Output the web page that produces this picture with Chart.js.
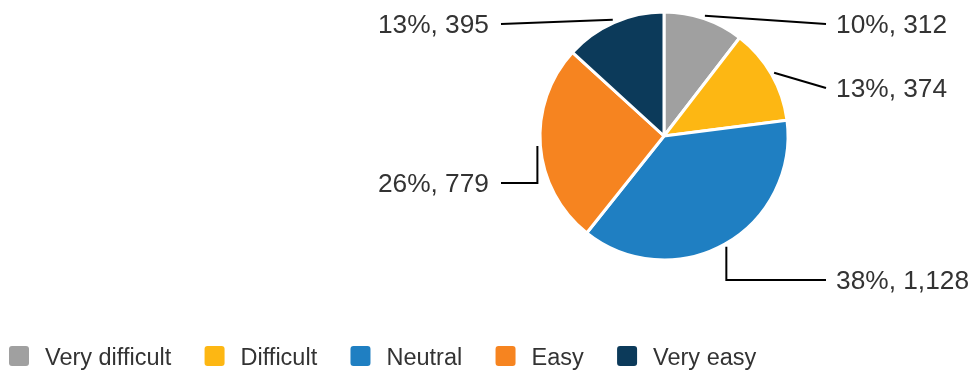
<!DOCTYPE html>
<html>
<head>
<meta charset="utf-8">
<title>Difficulty rating</title>
<script src="https://cdn.jsdelivr.net/npm/chart.js@4.4.1/dist/chart.umd.min.js"></script>
<style>
  html, body { margin: 0; padding: 0; background: #ffffff; }
  #wrap { width: 972px; height: 372px; position: relative; }
</style>
</head>
<body>
<div id="wrap"><canvas id="pie" width="972" height="372"></canvas></div>
<script>
// Survey answers: how difficult was it?
const categories = ['Very difficult', 'Difficult', 'Neutral', 'Easy', 'Very easy'];
const counts = [312, 374, 1128, 779, 395];
const colors = ['#a0a0a0', '#fdb713', '#1f7fc2', '#f68420', '#0c3a5a'];

// Callout placement per slice: which side the label sits on, its row
// relative to the pie centre, and whether the leader bends (elbow).
const calloutSide = ['right', 'right', 'right', 'left', 'left'];
const calloutRow = [-112, -48, 144, 47, -112];
const calloutElbow = [false, false, true, true, false];

const FONT = "'Liberation Sans', Arial, Helvetica, sans-serif";
const TEXT = '#333333';

const total = counts.reduce((a, b) => a + b, 0);
const fmt = new Intl.NumberFormat('en-US');

// Leader lines and "pct%, count" labels for each slice
const calloutPlugin = {
  id: 'callouts',
  afterDatasetsDraw(chart) {
    const ctx = chart.ctx;
    const meta = chart.getDatasetMeta(0);
    ctx.save();
    ctx.font = '26.3px ' + FONT;
    ctx.strokeStyle = '#000000';
    ctx.lineWidth = 2;
    ctx.fillStyle = TEXT;
    ctx.textBaseline = 'alphabetic';
    meta.data.forEach((arc, i) => {
      const p = arc.getProps(['x', 'y', 'startAngle', 'endAngle', 'outerRadius'], true);
      const mid = (p.startAngle + p.endAngle) / 2;
      const r0 = p.outerRadius + 3;
      const sx = p.x + Math.cos(mid) * r0;
      const sy = p.y + Math.sin(mid) * r0;
      const right = calloutSide[i] === 'right';
      const ex = right ? p.x + p.outerRadius + 38 : p.x - p.outerRadius - 39;
      const ey = p.y + calloutRow[i];
      ctx.beginPath();
      ctx.moveTo(sx, sy);
      if (calloutElbow[i]) ctx.lineTo(sx, ey);
      ctx.lineTo(ex, ey);
      ctx.stroke();
      const pct = Math.round(counts[i] / total * 100);
      const label = pct + '%, ' + fmt.format(counts[i]);
      ctx.textAlign = right ? 'left' : 'right';
      ctx.fillText(label, right ? ex + 10 : ex - 12, ey + 9.4);
    });
    ctx.restore();
  }
};

// Single-row legend along the bottom edge
const legendPlugin = {
  id: 'bottomLegend',
  afterDraw(chart) {
    const ctx = chart.ctx;
    const ds = chart.data.datasets[0];
    ctx.save();
    ctx.font = '23.5px ' + FONT;
    ctx.textBaseline = 'alphabetic';
    ctx.textAlign = 'left';
    let x = 9;
    const boxTop = 346;
    chart.data.labels.forEach((lab, i) => {
      ctx.fillStyle = ds.backgroundColor[i];
      ctx.beginPath();
      ctx.roundRect(x, boxTop, 20, 20, 3);
      ctx.fill();
      ctx.fillStyle = TEXT;
      const tx = x + 36;
      ctx.fillText(lab, tx, 365);
      x = tx + ctx.measureText(lab).width + 33.3;
    });
    ctx.restore();
  }
};

new Chart(document.getElementById('pie'), {
  type: 'pie',
  data: {
    labels: categories,
    datasets: [{
      data: counts,
      backgroundColor: colors,
      borderColor: '#ffffff',
      borderWidth: 3,
      hoverOffset: 0
    }]
  },
  options: {
    responsive: false,
    animation: false,
    radius: 124,
    layout: { padding: { left: 356, right: 0, top: 0, bottom: 100 } },
    plugins: {
      legend: { display: false },
      tooltip: { enabled: false }
    },
    events: []
  },
  plugins: [calloutPlugin, legendPlugin]
});
</script>
</body>
</html>
